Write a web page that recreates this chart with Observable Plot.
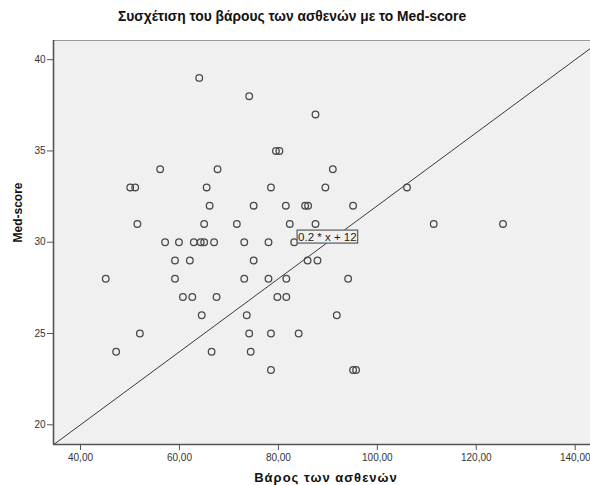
<!DOCTYPE html>
<html><head><meta charset="utf-8">
<script src="https://cdn.jsdelivr.net/npm/d3@7"></script>
<script src="https://cdn.jsdelivr.net/npm/@observablehq/plot@0.6"></script>
<style>
body{margin:0;background:#fff;}
#chart svg{display:block;}
.xlab text{letter-spacing:1px;}
</style></head><body><div id="chart"></div>
<script>
const chartTitle = "Συσχέτιση του βάρους των ασθενών με το Med-score";
const xLabel = "Βάρος των ασθενών";
const yLabel = "Med-score";
const weight = [64.0,74.1,87.5,79.5,80.2,56.1,67.7,91.0,50.05,51.06,65.5,78.5,89.5,106.0,
  66.1,75.0,81.5,85.4,86.0,95.1,51.5,65.0,71.6,82.3,87.5,111.4,125.4,
  57.1,59.9,62.9,64.3,65.0,67.0,73.1,78.0,83.2,59.1,62.1,75.0,85.9,87.9,
  45.1,59.1,73.1,78.0,81.6,94.1,60.7,62.6,67.5,79.8,81.6,64.5,73.6,91.8,
  52.0,74.1,78.5,84.1,47.2,66.5,74.4,78.5,95.1,95.7];
const medScore = [39,38,37,35,35,34,34,34,33,33,33,33,33,33,
  32,32,32,32,32,32,31,31,31,31,31,31,31,
  30,30,30,30,30,30,30,30,30,29,29,29,29,29,
  28,28,28,28,28,28,27,27,27,27,27,26,26,26,
  25,25,25,25,24,24,24,23,23,23];
const xTicks = [40,60,80,100,120,140];
const yTicks = [20,25,30,35,40];
const fitSlope = 0.2, fitIntercept = 12;
const fitLabel = "0.2 * x + 12";
const fitLabelAt = 89.9;

const pts = weight.map((w,i)=>({w, s: medScore[i]}));
const xDom = [34.54, 143.09], yDom = [18.92, 41.05];
const fit = x => fitSlope*x + fitIntercept;
const fitSeg = [{x1:xDom[0], y1:fit(xDom[0]), x2:xDom[1], y2:fit(xDom[1])}];
const fmt = d => d.toFixed(2).replace(".", ",");

const plot = Plot.plot({
  width: 590, height: 485,
  marginLeft: 53, marginRight: 0, marginTop: 40, marginBottom: 41,
  style: {fontFamily: "'Liberation Sans', Arial, sans-serif", background: "#fff"},
  x: {domain: xDom, ticks: xTicks, tickFormat: fmt},
  y: {domain: yDom, ticks: yTicks},
  marks: [
    Plot.frame({fill: "#f0f0f0", stroke: "#9a9a9a", strokeWidth: 1}),
    Plot.ruleX([xDom[0]], {stroke: "#555", strokeWidth: 1.6}),
    Plot.ruleY([yDom[0]], {stroke: "#555", strokeWidth: 1.6}),
    Plot.axisX({ticks: xTicks, tickFormat: fmt, tickSize: 6, tickPadding: 3, fontSize: 10, color: "#333", label: null, stroke: "#555"}),
    Plot.axisY({ticks: yTicks, tickSize: 6, tickPadding: 2, fontSize: 10, color: "#333", label: null, stroke: "#555"}),
    Plot.link(fitSeg, {x1:"x1", y1:"y1", x2:"x2", y2:"y2", stroke: "#3a3a3a", strokeWidth: 1, clip: true}),
    Plot.dot(pts, {x: "w", y: "s", r: 3.3, stroke: "#4a4a4a", strokeWidth: 1.3, fill: "none"}),
    Plot.text([fitLabel], {x: fitLabelAt, y: fit(fitLabelAt), text: d => d, textAnchor: "middle", lineAnchor: "bottom", dy: -2, fontSize: 11.5, fill: "#222", className: "fitlab"}),
    Plot.text([chartTitle], {frameAnchor: "top", dy: -29, text: d => d, fontSize: 13.8, fontWeight: "bold", fill: "#111", dx: -30}),
    Plot.text([xLabel], {frameAnchor: "bottom", dy: 37, dx: 4, text: d => d, fontSize: 13, fontWeight: "bold", fill: "#111", className: "xlab"}),
    Plot.text([yLabel], {frameAnchor: "left", dx: -35, rotate: -90, text: d => d, fontSize: 12, fontWeight: "bold", fill: "#111"})
  ]
});
document.getElementById("chart").appendChild(plot);
// box around fit label
const t = plot.querySelector(".fitlab text");
if (t) {
  const b = t.getBBox();
  const r = document.createElementNS("http://www.w3.org/2000/svg", "rect");
  r.setAttribute("x", b.x - 1); r.setAttribute("y", b.y - 0.5);
  r.setAttribute("width", b.width + 2); r.setAttribute("height", b.height + 1);
  r.setAttribute("fill", "#f0f0f0"); r.setAttribute("stroke", "#666"); r.setAttribute("stroke-width", "1.3");
  const tr = t.getAttribute("transform");
  if (tr) r.setAttribute("transform", tr);
  t.parentNode.insertBefore(r, t);
}
</script></body></html>
